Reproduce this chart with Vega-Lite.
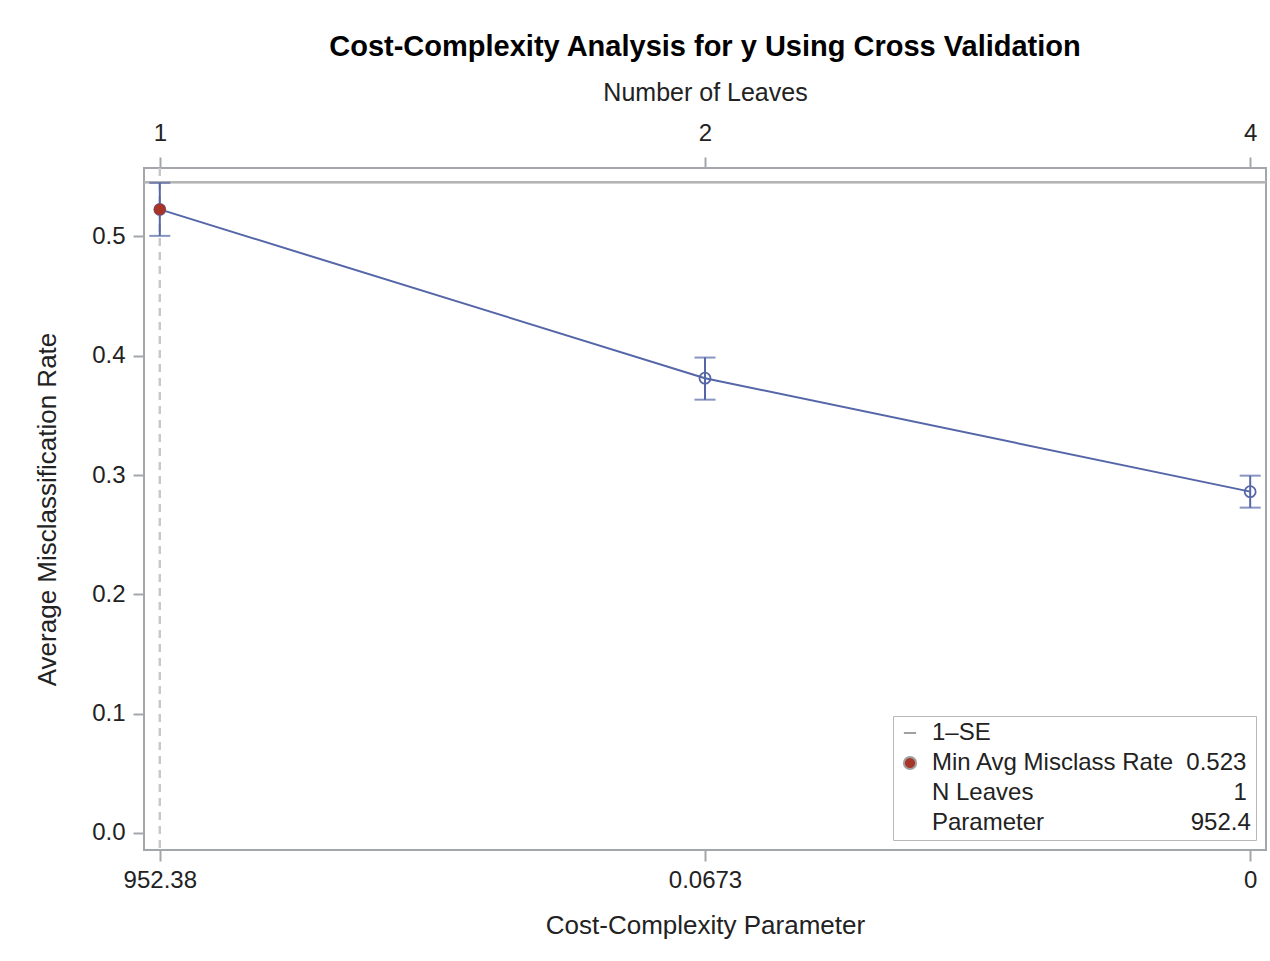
{
  "$schema": "https://vega.github.io/schema/vega-lite/v6.json",
  "width": 1122,
  "height": 682,
  "autosize": {"type": "none"},
  "padding": {"left": 144, "top": 168, "right": 4, "bottom": 111},
  "background": "white",
  "title": {"text": "Cost-Complexity Analysis for y Using Cross Validation", "fontSize": 29, "fontWeight": "bold", "font": "Liberation Sans", "color": "#000000", "offset": 18, "anchor": "middle"},
  "data": {"values": [
    {"param": "952.38", "leaves": "1", "rate": 0.5227, "lower": 0.5005, "upper": 0.5449, "isMin": true},
    {"param": "0.0673", "leaves": "2", "rate": 0.3812, "lower": 0.3632, "upper": 0.3985, "isMin": false},
    {"param": "0", "leaves": "4", "rate": 0.2861, "lower": 0.2727, "upper": 0.2995, "isMin": false}
  ]},
  "config": {
    "view": {"stroke": "#a3a7ab", "strokeWidth": 2},
    "axis": {"domain": false, "grid": false, "tickColor": "#a3a7ab", "tickWidth": 2, "tickSize": 11, "labelFont": "Liberation Sans", "labelFontSize": 24, "labelColor": "#222222", "titleFont": "Liberation Sans", "titleFontSize": 26, "titleFontWeight": "normal", "titleColor": "#222222"},
    "legend": {"orient": "bottom-right", "offset": 10, "padding": 5, "strokeColor": "#b8b8b8", "fillColor": "white", "labelFont": "Liberation Sans", "labelFontSize": 24, "labelColor": "#222222", "rowPadding": 6, "labelOffset": 10, "symbolSize": 150, "symbolStrokeWidth": 2, "symbolStrokeColor": "#a0a0a0", "labelLimit": 600}
  },
  "resolve": {"scale": {"x": "independent"}, "axis": {"x": "independent"}},
  "layer": [
    {
      "mark": {"type": "point", "opacity": 0},
      "encoding": {
        "x": {"field": "leaves", "type": "ordinal", "scale": {"type": "point", "domain": ["1", "2", "4"], "padding": 0.029}, "axis": {"orient": "top", "title": "Number of Leaves", "titleFontSize": 25, "labelAngle": 0, "labelAlign": "center", "labelPadding": 12, "titlePadding": 16}},
        "y": {"field": "rate", "type": "quantitative", "scale": {"domain": [-0.0143, 0.5574], "nice": false, "zero": false}}
      }
    },
    {
      "layer": [
        {
          "mark": {"type": "rule", "color": "#c8c8c8", "strokeWidth": 2, "strokeDash": [8, 6]},
          "encoding": {"x": {"datum": "952.38", "type": "ordinal", "scale": {"type": "point", "domain": ["952.38", "0.0673", "0"], "padding": 0.029}}}
        },
        {
          "mark": {"type": "rule", "color": "#b4b4b4", "strokeWidth": 2},
          "encoding": {"y": {"datum": 0.5455, "type": "quantitative"}}
        },
        {
          "mark": {"type": "rule", "color": "#5566a8", "strokeWidth": 2},
          "encoding": {
            "x": {"field": "param", "type": "ordinal", "scale": {"type": "point", "domain": ["952.38", "0.0673", "0"], "padding": 0.029}},
            "y": {"field": "lower", "type": "quantitative"},
            "y2": {"field": "upper"}
          }
        },
        {
          "mark": {"type": "tick", "color": "#5566a8", "orient": "horizontal", "size": 21, "thickness": 2},
          "encoding": {
            "x": {"field": "param", "type": "ordinal"},
            "y": {"field": "lower", "type": "quantitative"}
          }
        },
        {
          "mark": {"type": "tick", "color": "#5566a8", "orient": "horizontal", "size": 21, "thickness": 2},
          "encoding": {
            "x": {"field": "param", "type": "ordinal"},
            "y": {"field": "upper", "type": "quantitative"}
          }
        },
        {
          "mark": {"type": "line", "color": "#5566a8", "strokeWidth": 2},
          "encoding": {
            "x": {"field": "param", "type": "ordinal", "sort": null},
            "y": {"field": "rate", "type": "quantitative"}
          }
        },
        {
          "mark": {"type": "point", "filled": false, "color": "#5566a8", "size": 120, "strokeWidth": 1.8, "opacity": 1},
          "encoding": {
            "x": {"field": "param", "type": "ordinal", "axis": {"orient": "bottom", "title": "Cost-Complexity Parameter", "labelAngle": 0, "labelAlign": "center", "labelFlush": false, "labelPadding": 19, "titlePadding": 20}},
            "y": {"field": "rate", "type": "quantitative", "axis": {"values": [0, 0.1, 0.2, 0.3, 0.4, 0.5], "format": ".1f", "title": "Average Misclassification Rate", "labelPadding": 8, "titlePadding": 31}}
          }
        },
        {
          "transform": [{"filter": "datum.isMin"}],
          "mark": {"type": "point", "filled": true, "size": 140, "opacity": 1},
          "encoding": {
            "x": {"field": "param", "type": "ordinal"},
            "y": {"field": "rate", "type": "quantitative"},
            "color": {"datum": "Min Avg Misclass Rate", "scale": {"domain": ["1–SE", "Min Avg Misclass Rate", "N Leaves", "Parameter"], "range": ["#a0a0a0", "#a8352a", "#ffffff", "#ffffff"]}, "legend": {"title": null, "labelExpr": "datum.label == 'Min Avg Misclass Rate' ? 'Min Avg Misclass Rate\u00a0\u00a00.523' : datum.label == 'N Leaves' ? 'N Leaves\u00a0\u00a0\u00a0\u00a0\u00a0\u00a0\u00a0\u00a0\u00a0\u00a0\u00a0\u00a0\u00a0\u00a0\u00a0\u00a0\u00a0\u00a0\u00a0\u00a0\u00a0\u00a0\u00a0\u00a0\u00a0\u00a0\u00a0\u00a0\u00a0\u00a01' : datum.label == 'Parameter' ? 'Parameter\u00a0\u00a0\u00a0\u00a0\u00a0\u00a0\u00a0\u00a0\u00a0\u00a0\u00a0\u00a0\u00a0\u00a0\u00a0\u00a0\u00a0\u00a0\u00a0\u00a0\u00a0\u00a0952.4' : datum.label"}},
            "shape": {"datum": "Min Avg Misclass Rate", "scale": {"domain": ["1–SE", "Min Avg Misclass Rate", "N Leaves", "Parameter"], "range": ["stroke", "circle", "M0,0", "M0,0"]}, "legend": {"title": null, "labelExpr": "datum.label == 'Min Avg Misclass Rate' ? 'Min Avg Misclass Rate\u00a0\u00a00.523' : datum.label == 'N Leaves' ? 'N Leaves\u00a0\u00a0\u00a0\u00a0\u00a0\u00a0\u00a0\u00a0\u00a0\u00a0\u00a0\u00a0\u00a0\u00a0\u00a0\u00a0\u00a0\u00a0\u00a0\u00a0\u00a0\u00a0\u00a0\u00a0\u00a0\u00a0\u00a0\u00a0\u00a0\u00a01' : datum.label == 'Parameter' ? 'Parameter\u00a0\u00a0\u00a0\u00a0\u00a0\u00a0\u00a0\u00a0\u00a0\u00a0\u00a0\u00a0\u00a0\u00a0\u00a0\u00a0\u00a0\u00a0\u00a0\u00a0\u00a0\u00a0952.4' : datum.label"}}
          }
        }
      ]
    }
  ]
}
